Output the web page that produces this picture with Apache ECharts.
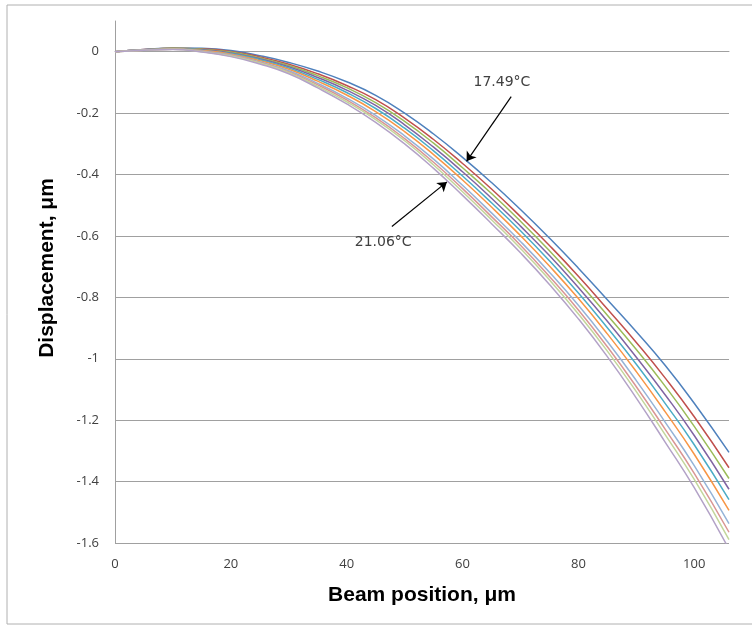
<!DOCTYPE html>
<html>
<head>
<meta charset="utf-8">
<script src="https://cdn.jsdelivr.net/npm/echarts@6/dist/echarts.min.js"></script>
<style>
  html, body { margin: 0; padding: 0; background: #fff; }
  #view { width: 752px; height: 626px; }
</style>
</head>
<body>
<div id="view"></div>
<script>
// beam position, um
const xValues = [0, 5, 10, 15, 20, 25, 30, 35, 40, 45, 50, 55, 60, 65, 70, 75, 80, 85, 90, 95, 100, 106];

// displacement, um (top curve = 17.49°C, bottom curve = 21.06°C)
const curve1 = [0, 0.007, 0.012, 0.011, 0.004, -0.013, -0.035, -0.063, -0.098, -0.142, -0.200, -0.268, -0.344, -0.426, -0.514, -0.607, -0.705, -0.808, -0.912, -1.022, -1.145, -1.305];
const curve2 = [0, 0.007, 0.011, 0.009, 0.001, -0.017, -0.041, -0.072, -0.110, -0.156, -0.216, -0.286, -0.364, -0.447, -0.537, -0.631, -0.731, -0.838, -0.947, -1.063, -1.189, -1.355];
const curve3 = [0, 0.006, 0.011, 0.008, -0.001, -0.020, -0.045, -0.078, -0.117, -0.166, -0.227, -0.298, -0.378, -0.462, -0.552, -0.648, -0.750, -0.858, -0.970, -1.090, -1.220, -1.390];
const curve4 = [0, 0.006, 0.010, 0.006, -0.004, -0.023, -0.049, -0.084, -0.125, -0.175, -0.238, -0.311, -0.391, -0.477, -0.568, -0.664, -0.768, -0.878, -0.995, -1.118, -1.250, -1.425];
const curve5 = [0, 0.006, 0.010, 0.005, -0.006, -0.026, -0.053, -0.090, -0.133, -0.185, -0.249, -0.323, -0.405, -0.492, -0.583, -0.681, -0.786, -0.899, -1.018, -1.146, -1.280, -1.459];
const curve6 = [0, 0.006, 0.009, 0.004, -0.008, -0.029, -0.057, -0.096, -0.141, -0.195, -0.260, -0.335, -0.418, -0.506, -0.599, -0.698, -0.804, -0.919, -1.042, -1.173, -1.311, -1.494];
const curve7 = [0, 0.006, 0.008, 0.002, -0.011, -0.033, -0.062, -0.103, -0.151, -0.207, -0.274, -0.350, -0.435, -0.525, -0.618, -0.718, -0.826, -0.944, -1.071, -1.207, -1.348, -1.537];
const curve8 = [0, 0.005, 0.008, 0.001, -0.013, -0.035, -0.066, -0.108, -0.157, -0.215, -0.283, -0.360, -0.446, -0.537, -0.630, -0.732, -0.841, -0.961, -1.091, -1.230, -1.373, -1.565];
const curve9 = [0, 0.005, 0.008, 0.000, -0.014, -0.037, -0.068, -0.113, -0.163, -0.221, -0.290, -0.369, -0.456, -0.547, -0.641, -0.743, -0.854, -0.975, -1.107, -1.248, -1.393, -1.589];
const curve10 = [0, 0.005, 0.007, -0.001, -0.016, -0.040, -0.072, -0.118, -0.170, -0.230, -0.300, -0.380, -0.468, -0.560, -0.655, -0.758, -0.870, -0.993, -1.128, -1.272, -1.420, -1.620];

const curves = [curve1, curve2, curve3, curve4, curve5, curve6, curve7, curve8, curve9, curve10];
const colors = ["#4F81BD", "#C0504D", "#9BBB59", "#8064A2", "#4BACC6", "#F79646", "#95B3D7", "#D99694", "#C3D69B", "#B3A2C7"];

// annotations: [label, text pos, arrow start, arrow tip] in data units
const notes = [
  ["17.49°C", [66.8, -0.101], [68.4, -0.146], [60.7, -0.357]],
  ["21.06°C", [46.3, -0.621], [47.8, -0.569], [57.3, -0.424]],
];

let myChart = echarts.init(document.getElementById("view"));

let seriesList = curves.map((c, i) => ({
  name: "c" + (i + 1),
  type: "line",
  smooth: true,
  showSymbol: false,
  symbol: "none",
  lineStyle: { width: 1.5, color: colors[i] },
  itemStyle: { color: colors[i] },
  data: xValues.map((x, j) => [x, c[j]]),
  z: 2 + i,
}));

// arrows and labels
seriesList.push({
  type: "line",
  data: [],
  silent: true,
  z: 20,
  markLine: {
    silent: true,
    symbol: ["none", "arrow"],
    symbolSize: 9,
    label: { show: false },
    lineStyle: { type: "solid", color: "#000", width: 1.2 },
    data: notes.map((n) => [{ coord: n[2] }, { coord: n[3] }]),
  },
  markPoint: {
    silent: true,
    symbol: "circle",
    symbolSize: 0,
    data: notes.map((n) => ({
      coord: n[1],
      label: { show: true, formatter: n[0], color: "#404040", fontSize: 14, fontFamily: "DejaVu Sans" },
    })),
  },
});

let option = {
  backgroundColor: "#fff",
  animation: false,
  graphic: [
    {
      type: "rect",
      shape: { x: 7, y: 5, width: 800, height: 619 },
      style: { fill: "none", stroke: "#b0b0b0", lineWidth: 1 },
      silent: true,
    },
  ],
  grid: {
    left: 115,
    right: 23,
    top: 21,
    bottom: 83,
    containLabel: false,
  },
  xAxis: {
    type: "value",
    min: 0,
    max: 106,
    interval: 20,
    name: "Beam position, μm",
    nameLocation: "middle",
    nameGap: 42,
    nameTextStyle: { fontFamily: "Liberation Sans", fontWeight: "bold", fontSize: 21, color: "#000" },
    axisLine: { lineStyle: { color: "#a0a0a0" } },
    axisTick: { show: false },
    splitLine: { show: false },
    axisLabel: { showMaxLabel: false, margin: 15, color: "#404040", fontSize: 13, fontFamily: "Open Sans" },
  },
  yAxis: {
    type: "value",
    min: -1.6,
    max: 0.1,
    interval: 0.2,
    name: "Displacement, μm",
    nameLocation: "middle",
    nameGap: 57,
    nameTextStyle: {
      fontFamily: "Liberation Sans",
      fontWeight: "bold",
      fontSize: 21,
      color: "#000",
      padding: [0, 0, 0, 28],
    },
    axisLine: { show: true, lineStyle: { color: "#a0a0a0" } },
    axisTick: { show: false },
    splitLine: { show: true, showMaxLine: false, lineStyle: { color: "#a0a0a0" } },
    axisLabel: {
      showMaxLabel: false,
      margin: 16,
      color: "#404040",
      fontSize: 13,
      fontFamily: "Open Sans",
      formatter: (v) => String(Math.round(v * 10) / 10),
    },
  },
  series: seriesList,
};
myChart.setOption(option);
</script>
</body>
</html>
